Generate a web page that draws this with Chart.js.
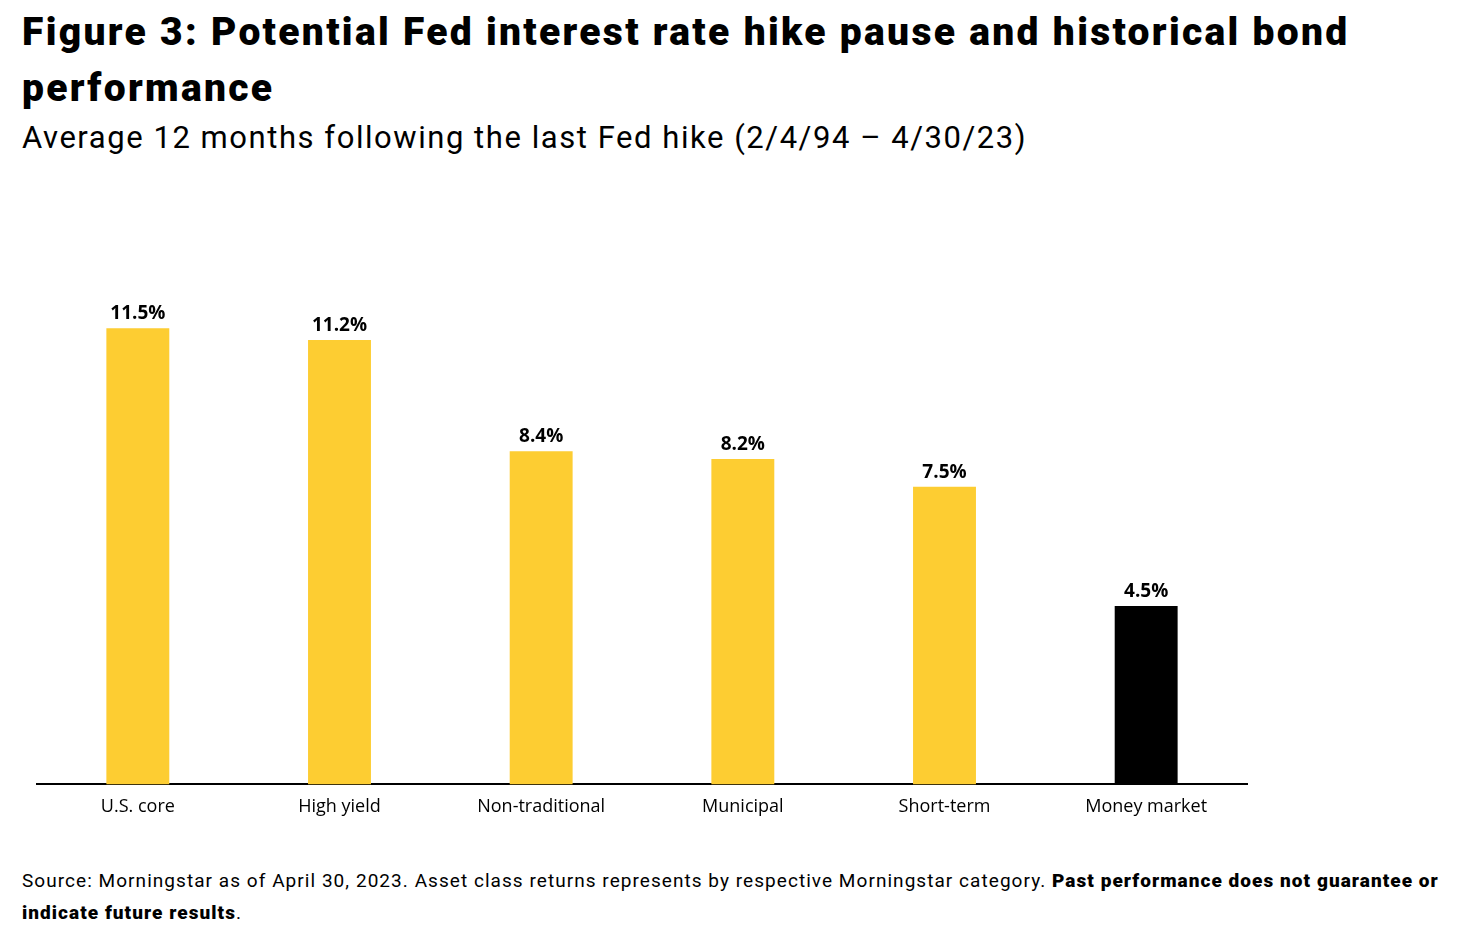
<!DOCTYPE html>
<html>
<head>
<meta charset="utf-8">
<script src="https://cdn.jsdelivr.net/npm/chart.js@4"></script>
<style>
  html, body { margin: 0; padding: 0; background: #fff; }
  body { width: 1478px; height: 946px; position: relative; overflow: hidden; font-family: 'Roboto', sans-serif; color: #000; }
  #title { position: absolute; left: 22px; top: 4px; width: 1420px; font-weight: 900; font-size: 39px; line-height: 56px; letter-spacing: 2.3px; }
  #subtitle { position: absolute; left: 22px; top: 118px; font-size: 31px; line-height: 40px; letter-spacing: 1.55px; }
  #chartBox { position: absolute; left: 0; top: 200px; width: 1280px; height: 640px; }
  #footer { position: absolute; left: 22px; top: 865px; width: 1440px; font-size: 19px; line-height: 32px; letter-spacing: 1.05px; }
  #footer b { font-weight: 900; }
</style>
</head>
<body>
<div id="title">Figure 3: Potential Fed interest rate hike pause and historical bond performance</div>
<div id="subtitle">Average 12 months following the last Fed hike (2/4/94 – 4/30/23)</div>
<div id="chartBox"><canvas id="chart"></canvas></div>
<div id="footer">Source: Morningstar as of April 30, 2023. Asset class returns represents by respective Morningstar category. <b>Past performance does not guarantee or indicate future results</b>.</div>

<script>
  // Data
  const categories = ['U.S. core', 'High yield', 'Non-traditional', 'Municipal', 'Short-term', 'Money market'];
  const returns    = [11.5, 11.2, 8.4, 8.2, 7.5, 4.5];

  const YELLOW = '#FDCD32';
  const BLACK  = '#000000';
  const barColors = categories.map((c, i) => i === categories.length - 1 ? BLACK : YELLOW);

  // value labels above bars
  const valueLabels = {
    id: 'valueLabels',
    afterDatasetsDraw(chart) {
      const { ctx } = chart;
      const meta = chart.getDatasetMeta(0);
      ctx.save();
      ctx.font = "bold 19px 'Open Sans', sans-serif";
      ctx.fillStyle = '#000';
      ctx.textAlign = 'center';
      ctx.textBaseline = 'bottom';
      meta.data.forEach((bar, i) => {
        ctx.fillText(returns[i].toFixed(1) + '%', bar.x, bar.y - 5);
      });
      ctx.restore();
    },
  };

  new Chart(document.getElementById('chart'), {
    type: 'bar',
    data: {
      labels: categories,
      datasets: [{
        data: returns,
        backgroundColor: barColors,
        barPercentage: 0.312,
        categoryPercentage: 1,
      }],
    },
    options: {
      responsive: true,
      maintainAspectRatio: false,
      animation: false,
      layout: { padding: { left: 37, right: 33, top: 29, bottom: 18 } },
      plugins: {
        legend: { display: false },
        tooltip: { enabled: false },
      },
      scales: {
        x: {
          grid: { display: false },
          border: { color: '#000', width: 2 },
          ticks: { color: '#000', font: { family: "'Open Sans', sans-serif", size: 18 }, padding: 4 },
        },
        y: {
          display: false,
          min: 0,
          max: 14,
        },
      },
    },
    plugins: [valueLabels],
  });
</script>
</body>
</html>
